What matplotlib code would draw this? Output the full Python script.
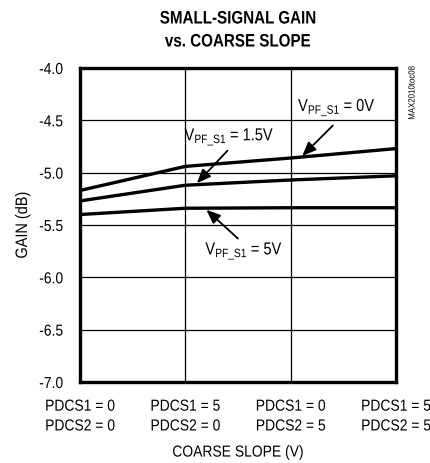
import matplotlib
matplotlib.use("Agg")
import matplotlib.pyplot as plt
from matplotlib.patheffects import AbstractPathEffect
from matplotlib.transforms import Affine2D

plt.rcParams['font.family'] = ['Liberation Sans', 'DejaVu Sans']
plt.rcParams['mathtext.default'] = 'regular'

x_labels = ["PDCS1 = 0\nPDCS2 = 0", "PDCS1 = 5\nPDCS2 = 0",
            "PDCS1 = 0\nPDCS2 = 5", "PDCS1 = 5\nPDCS2 = 5"]
gain_0v = [-5.17, -4.94, -4.86, -4.77]
gain_1p5v = [-5.27, -5.12, -5.07, -5.03]
gain_5v = [-5.40, -5.34, -5.335, -5.335]
y_ticks = [-7.0, -6.5, -6.0, -5.5, -5.0, -4.5, -4.0]


class Squeeze(AbstractPathEffect):
    """Horizontally condense glyphs (narrow-font look), keeping alignment."""
    def __init__(self, s=0.85, ha='center'):
        super().__init__()
        self.s = s
        self.ha = ha

    def draw_path(self, renderer, gc, tpath, affine, rgbFace=None):
        ext = tpath.get_extents()
        if self.ha == 'center':
            ref = (ext.x0 + ext.x1) / 2
        elif self.ha == 'right':
            ref = ext.x1
        else:
            ref = ext.x0
        t = Affine2D().translate(-ref, 0).scale(self.s, 1).translate(ref, 0) + affine
        renderer.draw_path(gc, tpath, t, rgbFace)


W, H = 430, 464
fig = plt.figure(figsize=(W / 100, H / 100), dpi=100)
ax = fig.add_axes([80 / W, 1 - 383 / H, 316 / W, 314 / H])
xs = list(range(len(x_labels)))
for ys in (gain_0v, gain_1p5v, gain_5v):
    ax.plot(xs, ys, color='black', lw=2.4, solid_capstyle='butt', zorder=3)

ax.set_xlim(0, 3)
ax.set_ylim(-7, -4)
ax.set_yticks(y_ticks)
ax.set_yticklabels([f"{v:.1f}" for v in y_ticks])
ax.set_xticks(xs)
ax.set_xticklabels(x_labels, linespacing=1.4)
ax.tick_params(length=0, labelsize=11.5)
ax.tick_params(axis='y', pad=12)
ax.tick_params(axis='x', pad=12)
ax.grid(True, color='black', lw=0.9)
for s in ax.spines.values():
    s.set_linewidth(2.4)
for lab in ax.get_yticklabels():
    lab.set_path_effects([Squeeze(0.87, 'right')])
for lab in ax.get_xticklabels():
    lab.set_path_effects([Squeeze(0.87, 'center')])

yl = ax.set_ylabel("GAIN (dB)", fontsize=12, labelpad=4)
yl.set_path_effects([Squeeze(0.87, 'center')])
xl = ax.set_xlabel("COARSE SLOPE (V)", fontsize=11.5, labelpad=8)
xl.set_path_effects([Squeeze(0.87, 'center')])

tx = (80 + 396) / 2 / W
for txt, ypx in (("SMALL-SIGNAL GAIN", 20), ("vs. COARSE SLOPE", 43)):
    t = fig.text(tx, 1 - ypx / H, txt, fontsize=13, fontweight='bold',
                 ha='center', va='center')
    t.set_path_effects([Squeeze(0.84, 'center')])

sub = r"$V_{PF\_S1}$"
arrow_kw = dict(arrowstyle='-|>,head_length=0.6,head_width=0.25', color='black',
                lw=1.3, mutation_scale=14, shrinkA=0, shrinkB=0)
annots = [
    (sub + " = 0V", (2.44, -4.38), (2.11, -4.84), (2.40, -4.55)),
    (sub + " = 1.5V", (1.42, -4.66), (1.11, -5.10), (1.40, -4.79)),
    (sub + " = 5V", (1.56, -5.75), (1.20, -5.355), (1.50, -5.63)),
]
for label, tpos, tip, tail in annots:
    t = ax.text(*tpos, label, fontsize=12.5, ha='center', va='center')
    t.set_path_effects([Squeeze(0.84, 'center')])
    ax.annotate("", xy=tip, xytext=tail, arrowprops=arrow_kw)

side = fig.text(412 / W, 1 - 94 / H, "MAX2010toc08", rotation=90, fontsize=6.5,
                ha='center', va='center')
side.set_path_effects([Squeeze(0.87, 'center')])

fig.savefig("out.png", dpi=100)
